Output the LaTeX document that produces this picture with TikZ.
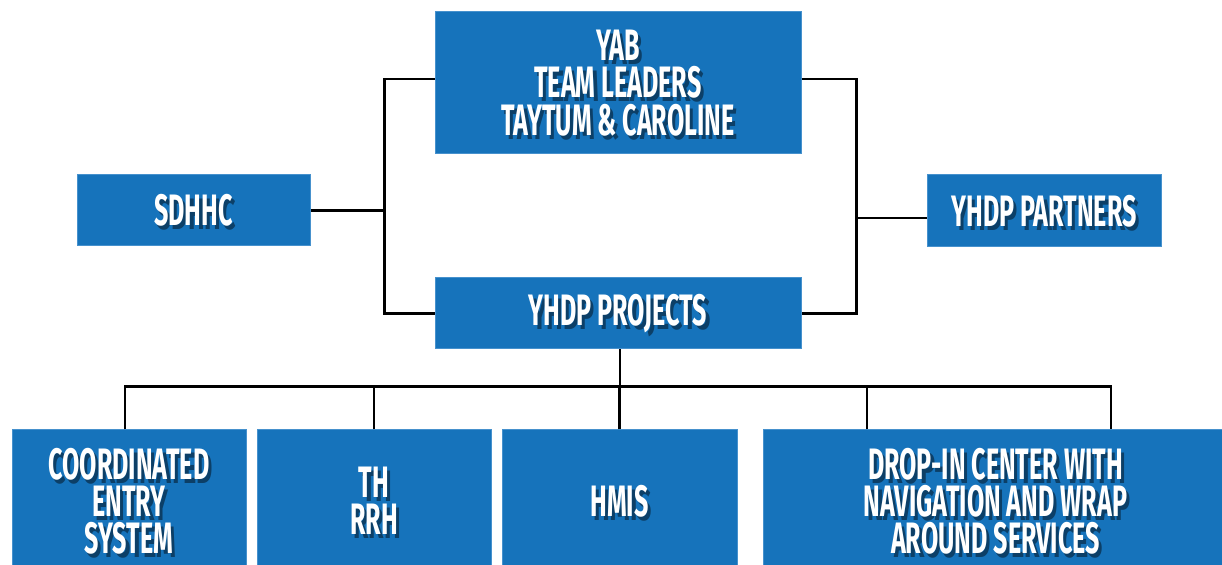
\documentclass[tikz,border=0pt]{standalone}
\usepackage{fontspec}
\newfontfamily\boxfont{Fira Sans}[FakeStretch=0.57]
\definecolor{boxblue}{RGB}{22,115,187}
\definecolor{boxedge}{RGB}{70,145,205}
\colorlet{shade}{boxblue!55!black}
\newcommand\boxlabel[2]{%
  \node[txt, text=shade] (#1-s) at ([xshift=1.6pt,yshift=-2pt]#1.center) {#2};
  \node[txt] (#1-t) at (#1.center) {#2};}
\begin{document}
\begin{tikzpicture}[x=0.5pt,y=-0.5pt,
  box/.style={fill=boxblue, draw=boxedge, line width=0.5pt, inner sep=0pt},
  txt/.style={text=white, align=center, inner sep=0pt,
    font=\boxfont\bfseries\fontsize{22pt}{18.6pt}\selectfont},
  link/.style={line width=1.4pt, draw=black}]
\useasboundingbox (0,0) rectangle (1222,565);
\clip (0,0) rectangle (1222,565);
% boxes
\node[box, minimum width=183pt, minimum height=71pt] (yab) at (618,83) {};
\node[box, minimum width=183pt, minimum height=35.5pt] (proj) at (618,313.5) {};
\node[box, minimum width=116.5pt, minimum height=35.5pt] (sd) at (193.5,210.5) {};
\node[box, minimum width=117pt, minimum height=36pt] (part) at (1044,211) {};
\node[box, minimum width=117pt, minimum height=71pt] (ces) at (129,501) {};
\node[box, minimum width=117pt, minimum height=71pt] (th) at (374,501) {};
\node[box, minimum width=117.5pt, minimum height=71pt] (hmis) at (619.5,501) {};
\node[box, minimum width=232.5pt, minimum height=71pt] (drop) at (995.5,501) {};
% labels
\boxlabel{yab}{YAB\\TEAM LEADERS\\TAYTUM \& CAROLINE}
\boxlabel{proj}{YHDP PROJECTS}
\boxlabel{sd}{SDHHC}
\boxlabel{part}{YHDP PARTNERS}
\boxlabel{ces}{COORDINATED\\ENTRY\\SYSTEM}
\boxlabel{th}{TH\\RRH}
\boxlabel{hmis}{HMIS}
\boxlabel{drop}{DROP-IN CENTER WITH\\NAVIGATION AND WRAP\\AROUND SERVICES}
% connectors
\coordinate (lb) at (385,212);
\draw[link] ([yshift=2pt]yab.west) -- ++(-25pt,0pt) |- (proj.west);
\draw[link] (sd.east) -- (sd.east -| lb);
\draw[link] ([yshift=2pt]yab.east) -- ++(27.5pt,0pt) |- (proj.east);
\draw[link] ([yshift=-3.5pt]part.west) -- ++(-35.5pt,0pt);
\draw[link] ([xshift=1pt]proj.south) -- ++(0pt,-19pt);
\draw[link] ([xshift=-2pt]ces.north) -- ++(0pt,21.5pt) -| ([xshift=57.75pt]drop.north);
\draw[link] (th.north) -- ++(0pt,21.5pt);
\draw[link] (hmis.north) -- ++(0pt,21.5pt);
\draw[link] ([xshift=-64.25pt]drop.north) -- ++(0pt,21.5pt);
\end{tikzpicture}
\end{document}
